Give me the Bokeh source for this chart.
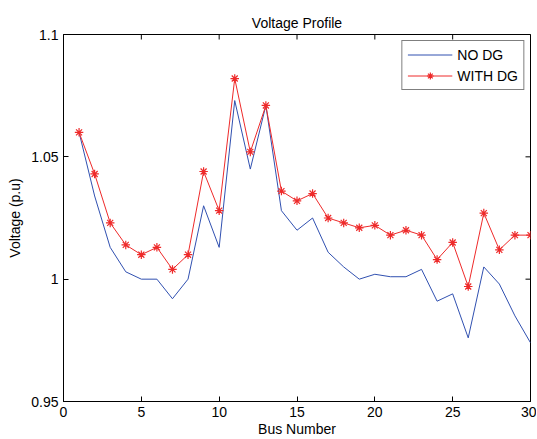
import math
from bokeh.plotting import figure
from bokeh.models import Range1d, FixedTicker, Legend, LegendItem
from bokeh.embed import file_html
from bokeh.resources import INLINE

bus = list(range(1, 31))
v_no_dg = [1.060, 1.034, 1.013, 1.003, 1.000, 1.000, 0.992, 1.000, 1.030, 1.013,
           1.073, 1.045, 1.071, 1.028, 1.020, 1.025, 1.011, 1.005, 1.000, 1.002,
           1.001, 1.001, 1.004, 0.991, 0.994, 0.976, 1.005, 0.998, 0.985, 0.974]
v_with_dg = [1.060, 1.043, 1.023, 1.014, 1.010, 1.013, 1.004, 1.010, 1.044, 1.028,
             1.082, 1.052, 1.071, 1.036, 1.032, 1.035, 1.025, 1.023, 1.021, 1.022,
             1.018, 1.020, 1.018, 1.008, 1.015, 0.997, 1.027, 1.012, 1.018, 1.018]
x_ticks = [0, 5, 10, 15, 20, 25, 30]
y_ticks = [0.95, 1.0, 1.05, 1.1]
y_tick_labels = {0.95: "0.95", 1.0: "1", 1.05: "1.05", 1.1: "1.1"}

FONT = "Liberation Sans"
FS = "14px"

p = figure(width=536, height=439, output_backend="svg", toolbar_location=None,
           x_range=Range1d(x_ticks[0], x_ticks[-1]), y_range=Range1d(y_ticks[0], y_ticks[-1]),
           title="Voltage Profile", min_border_left=63, min_border_right=6,
           min_border_top=34, min_border_bottom=36)
p.title.align = "center"
p.title.text_font = FONT
p.title.text_font_size = FS
p.title.text_font_style = "normal"
p.title.text_color = "black"
p.title.standoff = 8
p.grid.visible = False
p.outline_line_color = "black"
p.outline_line_width = 1
p.background_fill_color = "white"
p.border_fill_color = "white"

for ax in p.xaxis + p.yaxis:
    ax.major_tick_in = 5
    ax.major_tick_out = 0
    ax.minor_tick_in = 0
    ax.minor_tick_out = 0
    ax.major_label_text_font = FONT
    ax.major_label_text_font_size = FS
    ax.major_label_text_color = "black"
    ax.axis_label_text_font = FONT
    ax.axis_label_text_font_size = FS
    ax.axis_label_text_font_style = "normal"
    ax.axis_label_text_color = "black"
    ax.axis_line_color = "black"
    ax.major_tick_line_color = "black"

p.xaxis.ticker = FixedTicker(ticks=x_ticks)
p.yaxis.ticker = FixedTicker(ticks=y_ticks)
p.yaxis.major_label_overrides = y_tick_labels
p.xaxis.axis_label = "Bus Number"
p.yaxis.axis_label = "Voltage (p.u)"
p.xaxis.major_label_standoff = 5
p.xaxis.axis_label_standoff = 1
p.yaxis.major_label_standoff = 5
p.yaxis.axis_label_standoff = 5

# MATLAB-style inward ticks on the top and right edges (clipped to the frame)
p.scatter(x_ticks, [y_ticks[-1]] * len(x_ticks), marker="dash", angle=math.pi / 2,
          size=10, line_color="black", line_width=1)
p.scatter([x_ticks[-1]] * len(y_ticks), y_ticks, marker="dash",
          size=10, line_color="black", line_width=1)

r1 = p.line(bus, v_no_dg, line_color="#3050b0", line_width=1)
r2 = p.line(bus, v_with_dg, line_color="#ee2a2a", line_width=1)
r3 = p.scatter(bus, v_with_dg, marker="asterisk", size=8.5, line_color="#ee2a2a", line_width=1.2)

legend = Legend(items=[LegendItem(label="NO DG", renderers=[r1]),
                       LegendItem(label="WITH DG", renderers=[r2, r3])],
                location="top_right")
legend.label_text_font = FONT
legend.label_text_font_size = FS
legend.label_text_color = "black"
legend.border_line_color = "black"
legend.border_line_width = 1
legend.background_fill_alpha = 1
legend.margin = 6
legend.padding = 5
legend.spacing = 4
legend.glyph_width = 45
legend.label_standoff = 5
legend.label_height = 17
legend.glyph_height = 17
p.add_layout(legend)

open("out.html", "w").write(file_html(p, INLINE))
